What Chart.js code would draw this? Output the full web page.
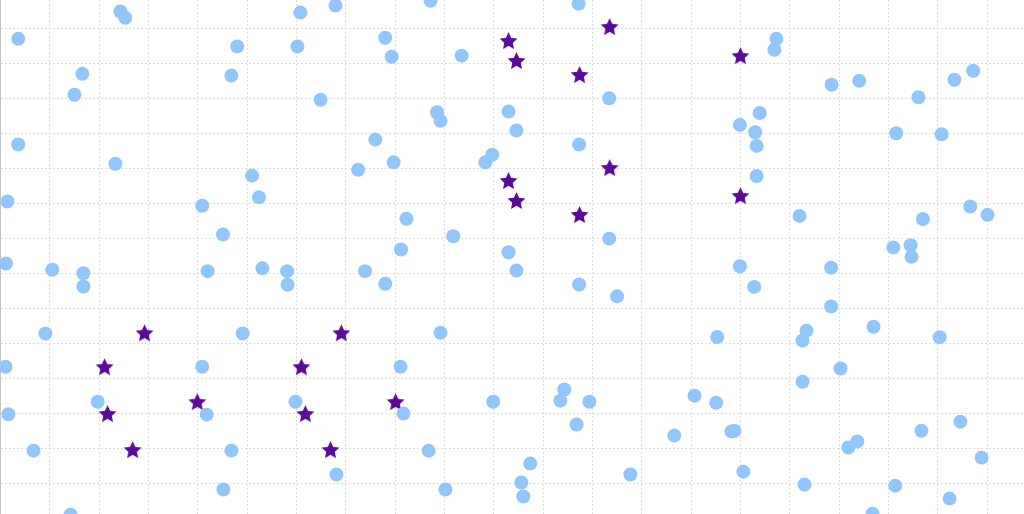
<!DOCTYPE html>
<html>
<head>
<meta charset="utf-8">
<title>scatter</title>
<script src="https://cdn.jsdelivr.net/npm/chart.js@4.4.1/dist/chart.umd.min.js"></script>
<style>
  html, body { margin: 0; padding: 0; background: #fff; }
  #wrap { width: 1024px; height: 514px; position: relative; }
</style>
</head>
<body>
<div id="wrap"><canvas id="chart"></canvas></div>
<script>
// circles (light blue)
const circleX = [
  2.43, 2.53, 0.36, 6.08, 6.79, 8.72, 11.72, 4.80, 6.02, 7.80,
  7.93, 9.35, 15.73, 15.69, 19.72, 19.34, 17.41, 16.85, 1.66, 1.50,
  4.68, 6.49, 12.34, 18.61, 8.85, 8.92, 10.30, 10.46, 14.99, 15.39,
  15.30, 15.33, 18.16, 19.08, 0.36, 2.33, 7.60, 7.97, 7.25, 9.97,
  9.83, 11.73, 5.10, 15.33, 5.24, 0.14, 4.09, 8.23, 16.20, 18.70,
  19.66, 20.01, 4.51, 9.18, 12.34, 8.12, 10.30, 18.10, 18.45, 18.47,
  0.11, 1.05, 1.68, 1.68, 4.20, 5.31, 5.81, 5.82, 7.39, 7.80,
  10.46, 14.99, 16.84, 11.73, 15.28, 12.50, 16.84, 0.91, 4.91, 8.92,
  16.34, 16.26, 17.70, 14.53, 19.04, 0.10, 4.09, 8.11, 17.03, 16.26,
  11.43, 14.07, 1.97, 5.98, 9.99, 11.35, 11.94, 14.51, 4.18, 8.17,
  0.16, 11.68, 14.88, 14.82, 18.67, 19.46, 13.66, 17.37, 17.19, 0.67,
  4.68, 8.68, 19.89, 10.74, 6.81, 12.77, 15.06, 10.56, 10.60, 4.52,
  9.02, 16.30, 18.14, 19.24, 1.42, 17.68
];
const circleY = [
  14.49, 14.31, 13.71, 14.46, 14.66, 14.80, 14.71, 13.49, 13.49, 13.74,
  13.20, 13.23, 13.71, 13.40, 12.80, 12.54, 12.51, 12.40, 12.71, 12.11,
  12.66, 11.97, 12.01, 12.04, 11.61, 11.37, 11.63, 11.09, 11.25, 11.59,
  11.04, 10.65, 11.01, 10.98, 10.69, 10.14, 10.83, 10.18, 9.97, 10.40,
  10.18, 10.69, 9.80, 9.79, 9.18, 9.06, 8.94, 8.57, 8.65, 8.56,
  8.92, 8.68, 8.12, 8.07, 8.00, 7.69, 7.61, 7.75, 7.81, 7.48,
  7.29, 7.11, 7.01, 6.63, 7.07, 7.15, 7.07, 6.68, 7.07, 6.71,
  7.09, 7.21, 7.17, 6.69, 6.62, 6.35, 6.06, 5.29, 5.29, 5.31,
  5.37, 5.09, 5.48, 5.19, 5.18, 4.34, 4.34, 4.34, 4.29, 3.91,
  3.69, 3.51, 3.34, 3.34, 3.34, 3.37, 3.34, 3.31, 2.97, 3.00,
  2.98, 2.69, 2.51, 2.49, 2.51, 2.77, 2.37, 2.20, 2.03, 1.94,
  1.94, 1.94, 1.74, 1.57, 1.26, 1.26, 1.34, 1.03, 0.63, 0.83,
  0.83, 0.97, 0.94, 0.57, 0.11, 0.14
];

// stars (purple)
const starX = [
  12.35, 10.30, 10.46, 11.74, 15.00,
  12.35, 10.30, 10.46, 11.74, 15.00,
  2.92, 2.11, 2.17, 2.68, 3.99,
  6.91, 6.10, 6.18, 6.69, 8.01
];
const starY = [
  14.06, 13.66, 13.09, 12.69, 13.23,
  10.03, 9.66, 9.09, 8.69, 9.23,
  5.31, 4.34, 3.00, 1.97, 3.34,
  5.31, 4.34, 3.00, 1.97, 3.34
];

// visible window of the axes
const xMin = -0.01, xMax = 20.75;
const yMin = 0.13, yMax = 14.82;

const blue = '#92c5f9';
const purple = '#5a0a9b';

function makeStar(color, outer, inner) {
  const size = Math.ceil(outer * 2) + 2;
  const c = document.createElement('canvas');
  c.width = size;
  c.height = size;
  const ctx = c.getContext('2d');
  ctx.fillStyle = color;
  ctx.beginPath();
  for (let i = 0; i < 10; i++) {
    const r = i % 2 === 0 ? outer : inner;
    const a = -Math.PI / 2 + i * Math.PI / 5;
    ctx.lineTo(size / 2 + r * Math.cos(a), size / 2 + r * Math.sin(a) + 0.8);
  }
  ctx.closePath();
  ctx.fill();
  return c;
}

const toPoints = (xs, ys) => xs.map((x, i) => ({ x: x, y: ys[i] }));

const gridOpts = {
  color: '#dedede',
  lineWidth: 1,
  drawTicks: false
};

new Chart(document.getElementById('chart'), {
  type: 'scatter',
  data: {
    datasets: [
      {
        label: 'circles',
        data: toPoints(circleX, circleY),
        backgroundColor: blue,
        borderWidth: 0,
        pointRadius: 7,
        pointHoverRadius: 7
      },
      {
        label: 'stars',
        data: toPoints(starX, starY),
        pointStyle: makeStar(purple, 9.4, 4.5),
        pointRadius: 10,
        pointHoverRadius: 10
      }
    ]
  },
  options: {
    responsive: true,
    maintainAspectRatio: false,
    animation: false,
    layout: { autoPadding: false, padding: 0 },
    plugins: {
      legend: { display: false },
      tooltip: { enabled: false }
    },
    scales: {
      x: {
        type: 'linear',
        min: xMin,
        max: xMax,
        ticks: { display: false, stepSize: 1, includeBounds: false },
        grid: gridOpts,
        border: { display: false, dash: [2, 2] }
      },
      y: {
        type: 'linear',
        min: yMin,
        max: yMax,
        ticks: { display: false, stepSize: 1, includeBounds: false },
        grid: gridOpts,
        border: { display: true, color: '#c4c4c4', width: 2, dash: [2, 2] }
      }
    }
  }
});
</script>
</body>
</html>
